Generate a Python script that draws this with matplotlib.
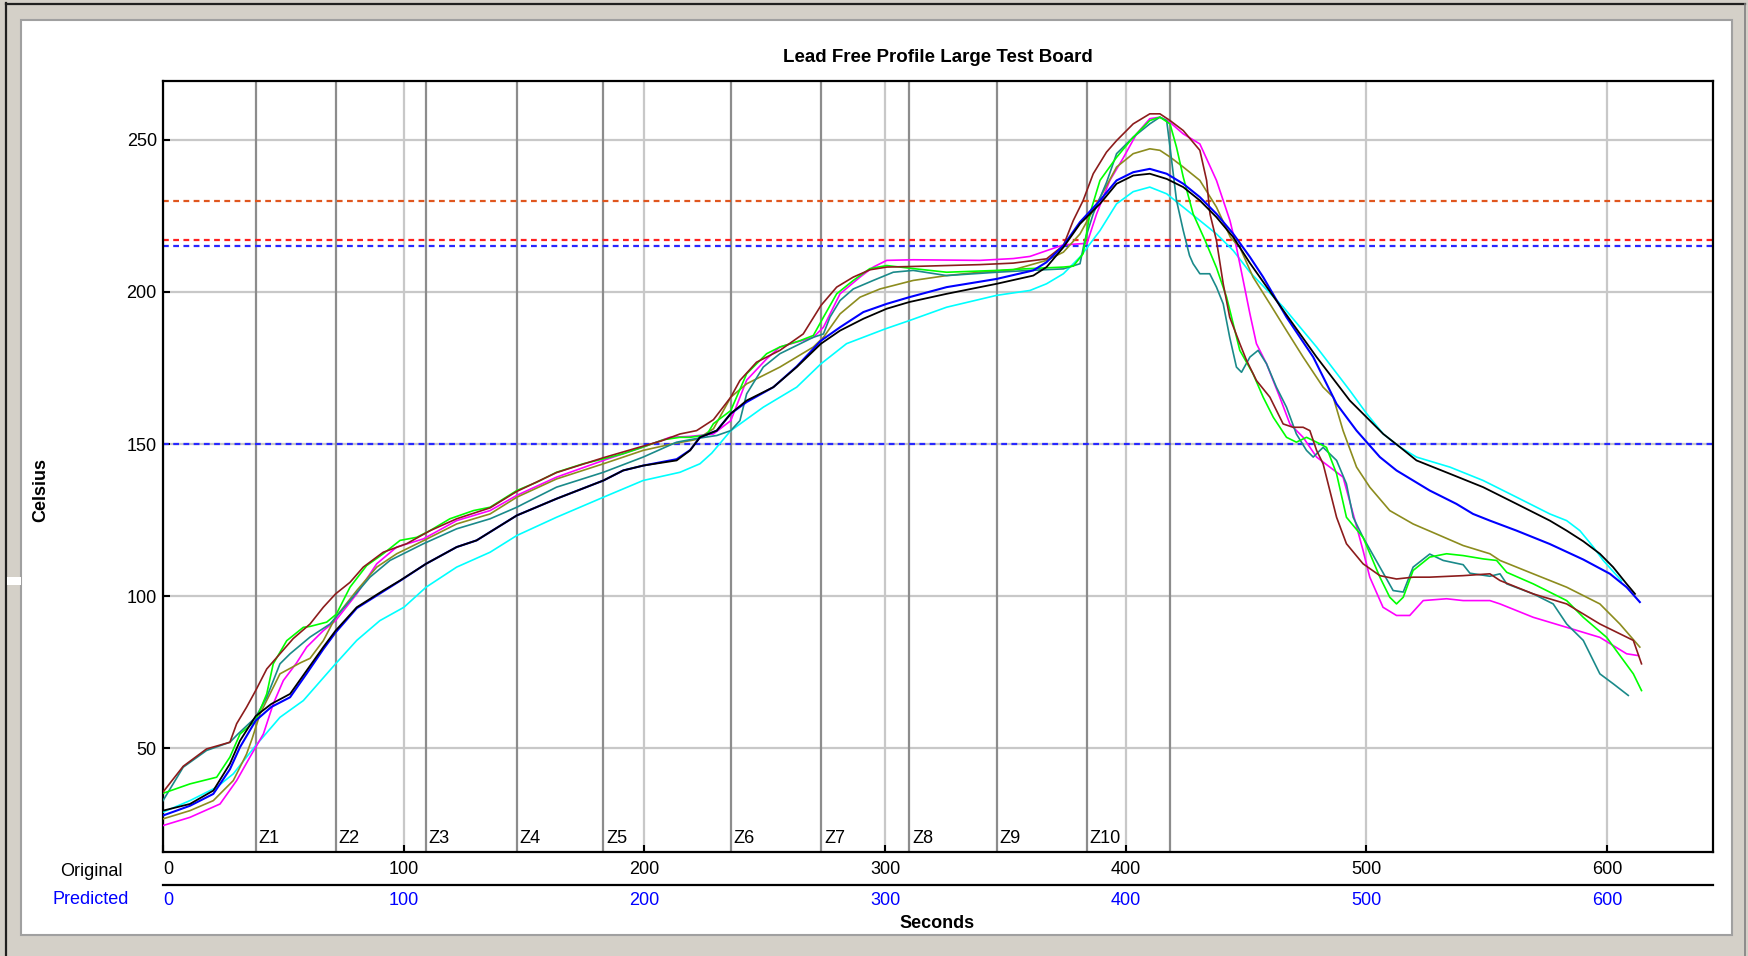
import numpy as np
import matplotlib
matplotlib.use('Agg')
import matplotlib.pyplot as plt
import matplotlib.transforms as mtransforms
from matplotlib.lines import Line2D
from matplotlib.patches import Rectangle

plt.rcParams['font.family'] = ['Liberation Sans', 'DejaVu Sans']

# ---- data (seconds, celsius) ----
brown = np.array([
    (0, 35.5), (8.4, 44), (18.1, 49.7), (27.8, 51.9), (30.6, 58), (34.7, 63.4), (38.5, 68.9),
    (43.1, 76), (48.6, 81), (54.1, 86), (61.1, 90.8), (66.6, 96.3), (71.7, 100.7), (77.7, 104.5),
    (83.2, 109.5), (91.5, 114.4), (101.2, 117.2), (111, 121.5), (122, 125.4), (135.9, 129),
    (147, 134.4), (163.5, 140.6), (183, 145.5), (199.5, 149.3), (207, 151), (214.8, 153.3),
    (221.7, 154.4), (228.7, 158), (235.9, 165.4), (239.7, 170.9), (246.6, 176.9), (256.3, 180.8),
    (266, 186.2), (273.4, 195.6), (279.9, 201.6), (286.8, 204.9), (293.7, 207.3), (300.7, 208.2),
    (311.7, 208.4), (339.4, 209), (353.3, 209.5), (367.1, 210.9), (374.1, 215.3), (378.2, 223.5),
    (382.3, 230.1), (386.5, 238.9), (392, 246), (396.2, 249.8), (403.1, 255.3), (410, 258.6),
    (414.2, 258.6), (418.4, 256.4), (423.9, 253.1), (430.8, 246.6), (433.6, 236.7), (435, 225.7),
    (437.7, 216.9), (440.5, 202.7), (443.2, 191.7), (447.4, 183), (450.2, 177.5), (454.3, 170.9),
    (459.9, 165.4), (465.4, 156.6), (469.5, 155.5), (473.7, 155.5), (476.5, 154.4), (479.3, 147.9),
    (482, 143.5), (484.8, 134.7), (487.6, 125.9), (491.7, 117.2), (498.6, 110.6), (505.6, 106.7),
    (512.5, 105.6), (519.4, 106.2), (526.3, 106.2), (540.2, 106.7), (551.3, 107.3), (555.5, 105.1),
    (562.4, 102.9), (569.3, 100.7), (583.2, 97.4), (597, 90.8), (610.9, 85.4), (614.3, 77.7)])

green = np.array([
    (0, 35.1), (11.2, 38.2), (22.3, 40.4), (27.8, 47), (32, 54.6), (38.5, 59), (43.1, 67.8),
    (45.8, 77.7), (51.4, 85.3), (58.3, 89.7), (61.1, 90), (68, 91.4), (72, 94), (77.7, 102.9),
    (84.6, 110), (91.5, 113.9), (98.5, 118.3), (105.4, 119.3), (110.9, 121.5), (119.2, 125.4),
    (129, 128.1), (135.9, 129.2), (147, 134.7), (155.2, 137.4), (163.5, 140.7), (174.6, 143.5),
    (183, 145.1), (191.2, 146.8), (199.5, 149), (207.9, 151.4), (214.8, 152.2), (219, 152.2),
    (225.9, 153), (228.7, 156.7), (235.9, 161), (242.5, 173.1), (250.8, 179.7), (256.3, 181.9),
    (264.7, 184), (270.2, 185.7), (274.4, 191.7), (279.9, 199.4), (286.8, 203.8), (293.7, 207.7),
    (300.7, 208.7), (311.7, 207.7), (325.6, 206.5), (346.4, 207.1), (360.2, 207.7), (374.1, 208.2),
    (378.2, 208.5), (382.3, 212.6), (385.1, 225.7), (389.3, 236.7), (396.2, 244.3), (403.1, 250.9),
    (410, 256.4), (414.2, 257.5), (418.4, 255.3), (421.1, 247.6), (423.9, 237.8), (428, 225.7),
    (433, 216.9), (437.7, 208), (441.9, 198.3), (447.4, 180.8), (452.9, 173.1), (457.1, 165.4),
    (461.3, 158.8), (466.8, 152.2), (470.9, 150.6), (475.1, 152.2), (479.3, 150.6), (483.4, 148.9),
    (487.6, 140.2), (491.7, 125.9), (498.6, 119.3), (505.6, 106.2), (509.7, 99.6), (512.5, 97.4),
    (515.3, 99.6), (519.4, 108.4), (526.3, 112.8), (533.3, 113.9), (540.2, 113.3), (548.6, 112.2),
    (554.1, 111.7), (558.3, 107.8), (569.3, 104), (583.2, 98.5), (590.1, 93), (599.8, 86.4),
    (610.9, 74.4), (614.3, 68.9)])

teal = np.array([
    (0, 32.7), (8.4, 43.7), (18.1, 49.2), (27.8, 51.9), (31, 54.5), (38.5, 60.1), (43.1, 66.7),
    (48.6, 77.7), (52.8, 81), (61.1, 86.5), (69.4, 90.8), (77.7, 98.5), (86, 106.2), (94.3, 111.7),
    (108.2, 117.2), (122, 122.1), (135.9, 125.4), (147, 129.2), (149.7, 130.3), (163.5, 135.8),
    (183, 140.7), (199.5, 145.7), (213.4, 150.6), (221.7, 151.8), (230.1, 152.8), (235.9, 154.4),
    (239.7, 157.7), (242.5, 166.5), (249.4, 175.3), (256.3, 179.7), (270.2, 185.1), (274.4, 186.2),
    (277.1, 191.7), (281.3, 197.2), (286.8, 201), (295.1, 203.8), (303.4, 206.5), (311.7, 207.1),
    (325.6, 205.4), (346.4, 206.5), (360.2, 207.1), (374.1, 207.6), (381, 209.3), (383, 217),
    (386.5, 225.7), (392, 236), (396.2, 245.5), (403.1, 250.9), (410, 255.3), (414.2, 257.5),
    (417, 256.4), (418.4, 247.6), (421.1, 230.1), (423.9, 220.2), (426.5, 212), (428, 209.3),
    (430.8, 206), (434.9, 206), (437.7, 201.6), (440.5, 196.1), (443.2, 185.1), (446, 175.3),
    (448.1, 173.6), (451.6, 178.6), (455, 180.8), (458.5, 176.4), (462.6, 168.7), (466.8, 162.1),
    (470.9, 153.3), (475.1, 147.9), (477.9, 145.7), (482, 148.9), (487.6, 144.6), (491.7, 136.9),
    (494.5, 125.9), (498.6, 119.3), (505.6, 109.5), (511.1, 101.8), (515.3, 101.3), (519.4, 109.5),
    (526.3, 113.8), (531.9, 111.7), (540.2, 110.3), (543, 107.5), (551.3, 106.5), (555.5, 107.3),
    (558.3, 104), (569.3, 100.7), (577.6, 97.4), (583.2, 90.8), (590.1, 85.4), (597, 74.4),
    (602.6, 71.1), (608.8, 67.3)])

magenta = np.array([
    (0, 24.5), (11.2, 27.2), (23.7, 31.6), (30.6, 39.3), (36.1, 47), (41.7, 54.6), (45.8, 64.5),
    (50, 72.2), (55.5, 78), (59.7, 83.2), (66.6, 88.6), (71.7, 91.9), (80.5, 100.7), (88.8, 110.6),
    (97.1, 116.1), (108.2, 118.8), (122, 124.8), (135.9, 128.1), (147, 133.1), (163.5, 139.1),
    (183, 144.6), (199.5, 149), (210.6, 152.2), (219, 152.5), (228.7, 153.3), (235.9, 157.7),
    (242.5, 171), (250.8, 178), (256.3, 181.9), (270.2, 185.1), (274.4, 188.4), (281.3, 199.4),
    (289.6, 204.9), (295.1, 208.2), (300.7, 210.4), (311.7, 210.6), (339.4, 210.4), (353.3, 211),
    (360.2, 211.7), (374.1, 215.5), (383.9, 216), (387.9, 225.7), (393.4, 236.7), (398.9, 244),
    (404.5, 252), (410, 257), (414.2, 257.5), (418.4, 255.8), (423.9, 252), (430.8, 248.7),
    (437.7, 236.7), (443.3, 223.5), (446, 214.7), (448.8, 203.8), (451.6, 192.8), (454.3, 183),
    (458.5, 176.4), (464, 165.4), (468.2, 156.6), (473.7, 152.2), (479.3, 145.7), (484.8, 142.4),
    (490.3, 139.1), (494.5, 127), (498.6, 115), (501.4, 106.2), (506.9, 96.3), (512.5, 93.6),
    (518, 93.6), (523.6, 98.5), (533.3, 99.1), (540.2, 98.5), (551.3, 98.5), (555.5, 97.4),
    (569.3, 93), (583.2, 89.7), (597, 86.4), (608.1, 81), (613, 80.4)])

olive = np.array([
    (0, 26.7), (11.2, 29.4), (20.9, 32.7), (29.2, 39.3), (34.7, 48), (37, 53), (40.3, 61.2),
    (48.6, 74.4), (57, 78), (61.1, 79.5), (66.6, 85.3), (71.7, 93), (80.5, 101.8), (88.8, 109.5),
    (97.1, 113.9), (108.2, 118.2), (122, 123.7), (135.9, 127), (147, 132.5), (163.5, 138.5),
    (183, 143.5), (199.5, 147.9), (212, 150.1), (221.7, 151.5), (228.7, 155), (235.9, 165.4),
    (242.5, 169.8), (256.3, 175.3), (270.2, 181.9), (274.4, 185.1), (281.3, 192.8), (289.6, 198.3),
    (297.9, 201), (311.7, 203.8), (325.6, 205.4), (339.4, 206.5), (353.3, 207.3), (367.1, 210.4),
    (374.1, 213.1), (381, 219.1), (389.3, 231), (396.2, 241.1), (403.1, 245.5), (410, 247.1),
    (414.2, 246.6), (418.4, 244.4), (423.9, 241.1), (430.8, 236.7), (437.7, 227.9), (443.5, 218),
    (447.4, 214.7), (452.9, 204.9), (459.9, 196.1), (466.8, 187.3), (473.7, 178.6), (482, 168.7),
    (486.2, 165.4), (490.3, 154.4), (495.9, 142.4), (501.4, 135.8), (509.7, 128.1), (519.4, 123.7),
    (529.1, 120.4), (540.2, 116.6), (551.3, 113.9), (555.5, 111.7), (569.3, 107.3), (583.2, 102.9),
    (597, 97.4), (605.3, 90.8), (613.6, 83.2)])

black = np.array([
    (0, 29.4), (11.2, 31.6), (20.9, 36), (27.8, 44.8), (32, 52.4), (38.5, 60.5), (45, 64.5),
    (52.8, 67.8), (59.7, 75.5), (66.6, 83.2), (71.7, 88.6), (80.5, 96.3), (91.5, 101.8),
    (98.5, 105.1), (109.3, 110.6), (122, 116.1), (130.3, 118.3), (147, 126.5), (163.5, 132),
    (183, 138), (191.2, 141.3), (199.5, 142.9), (213.4, 144.6), (219, 147.9), (223.1, 152.2),
    (230.1, 154.4), (235.9, 160), (242.5, 164.3), (253.6, 168.7), (263.3, 175.3), (273.4, 183),
    (281.3, 187.3), (291, 191.2), (300.7, 194.5), (310.1, 196.7), (325.6, 199.4), (346.4, 202.7),
    (361.6, 205.4), (367.1, 208.2), (374.1, 214.7), (381, 222.4), (389.3, 229), (396.2, 235.6),
    (403.1, 238.3), (410, 238.9), (417, 237.2), (423.9, 234.5), (430.8, 230.1), (437.7, 224.6),
    (444.7, 218), (451.6, 209.5), (465.5, 193.9), (479.3, 178.6), (493.1, 164.3), (507, 153.3),
    (513.9, 149), (520.8, 144.6), (534.7, 140.2), (548.5, 135.8), (562.4, 130.3), (576.2, 124.8),
    (583.2, 121.5), (590.1, 118), (597, 113.9), (602.5, 109.5), (608.1, 104), (611.6, 100.7)])

blue = np.array([
    (0, 27.8), (11.2, 31), (20.9, 34.9), (27.8, 43), (32, 50.3), (38.5, 59), (45, 63.5),
    (52.8, 66.7), (59.7, 74.5), (66.6, 82.5), (71.7, 88), (80.5, 96), (91.5, 101.5), (98.5, 105),
    (109.3, 110.6), (122, 116.1), (130.3, 118.3), (147, 126.5), (163.5, 132), (183, 138),
    (191.2, 141.3), (199.5, 142.9), (213.4, 145), (219, 148), (223.1, 152.2), (230.1, 154.4),
    (235.9, 160), (242.5, 163.8), (253.6, 168.7), (263.3, 175.5), (273.4, 184), (281.3, 188.4),
    (291, 193.4), (300.7, 196.1), (310.1, 198.3), (325.6, 201.6), (346.4, 204.3), (361.6, 207.1),
    (367.1, 209.8), (374.1, 215.3), (381, 223), (389.3, 230.1), (396.2, 236.7), (403.1, 239.4),
    (410, 240.5), (417, 238.9), (423.9, 235.6), (430.8, 231.2), (437.7, 225.7), (444.7, 219.1),
    (451.6, 211.5), (457.1, 204.9), (466.8, 191.7), (477.9, 178.6), (487.6, 163.2), (495.9, 154.4),
    (505.6, 145.7), (512.5, 141.3), (519.4, 138), (526.3, 134.7), (537.4, 130.3), (544.3, 127),
    (551.3, 124.8), (562.4, 121.5), (576.2, 117.1), (590.1, 112), (601.2, 107.3), (608.1, 102.9),
    (613.6, 98)])

cyan = np.array([
    (0, 28.9), (11.2, 32.7), (22.3, 37.1), (29.2, 41.5), (38.5, 50.8), (48.6, 60.1), (58.3, 65.6),
    (71.7, 77.7), (80.5, 85.4), (90.1, 91.9), (100.1, 96.3), (109.3, 102.9), (122, 109.5),
    (135.9, 114.4), (147, 119.9), (163.5, 125.9), (183, 132.5), (199.5, 138), (214.8, 140.7),
    (223.1, 143.5), (228, 147), (235.9, 154.4), (249.4, 162.1), (263.3, 168.7), (273.4, 176.4),
    (284, 183), (300.2, 187.9), (310.1, 190.6), (325.6, 195), (346.4, 198.9), (360.2, 200.5),
    (367.1, 202.7), (374.1, 206), (381, 211.5), (389.3, 220.2), (396.2, 229), (403.1, 233),
    (410, 234.5), (417, 232.3), (423.9, 227.9), (430.8, 223.5), (437.7, 219.1), (444.7, 213.6),
    (451.6, 206.5), (465.5, 195), (479.3, 181.9), (493.1, 167.6), (500.1, 160), (507, 153.3),
    (513.9, 149), (520.8, 145.7), (534.7, 142.4), (548.5, 138), (562.4, 132.5), (576.2, 127),
    (583.2, 124.8), (588.7, 121.5), (594.3, 116.1), (598.4, 111.7), (606, 105)])

# zone boundaries (seconds) and limit lines (celsius)
zone_edges = [38.5, 71.7, 109.1, 146.9, 182.9, 235.9, 273.4, 310.1, 346.4, 383.9, 418.5]
zone_names = ['Z1', 'Z2', 'Z3', 'Z4', 'Z5', 'Z6', 'Z7', 'Z8', 'Z9', 'Z10']
limit_levels = [230, 217, 215, 150]
x_ticks = [0, 100, 200, 300, 400, 500, 600]
y_ticks = [50, 100, 150, 200, 250]

# ---- figure / window frame ----
W, H = 1748, 956
fig = plt.figure(figsize=(W / 100, H / 100), dpi=100, facecolor='#D4D0C8')


def fx(px):
    return px / W


def fy(py):
    return 1 - py / H


fig.add_artist(Rectangle((fx(21), fy(935)), fx(1732) - fx(21), fy(20) - fy(935),
                         transform=fig.transFigure, facecolor='white',
                         edgecolor='#A0A0A0', lw=1.5, zorder=-10))
fig.add_artist(Line2D([fx(6), fx(6)], [fy(3), 0], transform=fig.transFigure,
                      color='#202020', lw=1.6, zorder=-9))
fig.add_artist(Line2D([fx(6), fx(1745)], [fy(4), fy(4)], transform=fig.transFigure,
                      color='#202020', lw=1.6, zorder=-9))
fig.add_artist(Line2D([fx(1745), fx(1745)], [fy(4), 0], transform=fig.transFigure,
                      color='#808080', lw=1.2, zorder=-9))
fig.add_artist(Rectangle((fx(7), fy(585)), fx(21) - fx(7), fy(577) - fy(585),
                         transform=fig.transFigure, facecolor='white', edgecolor='none', zorder=-8))

# ---- plot area ----
ax = fig.add_axes([fx(163), fy(852), fx(1713) - fx(163), fy(81) - fy(852)])
ax.set_xlim(0, 644)
ax.set_ylim(15.8, 269.4)

ax.set_xticks(x_ticks)
ax.set_yticks(y_ticks)
ax.grid(True, color='#C8C8C8', lw=1.6)
ax.set_axisbelow(True)
ax.tick_params(direction='in', length=5, width=1.5, labelsize=13, colors='black')
ax.tick_params(axis='x', pad=6.5)
ax.tick_params(axis='y', pad=4.5)
ax.get_xticklabels()[0].set_ha('left')
for s in ax.spines.values():
    s.set_linewidth(1.6)
    s.set_color('black')

for z in zone_edges:
    ax.axvline(z, color='#8C8C8C', lw=1.6, zorder=1.5)

blend = mtransforms.blended_transform_factory(ax.transData, ax.transAxes)
for z, name in zip(zone_edges, zone_names):
    ax.text(z + 1.2, 0.006, name, transform=blend, ha='left', va='bottom', fontsize=13)

limit_colors = ['#E0561E', '#FF2020', '#2828FF', '#2828FF']
for lev, c in zip(limit_levels, limit_colors):
    ax.axhline(lev, color=c, lw=1.6, ls=(0, (2.6, 2.0)), zorder=1.8)

series = [(cyan, '#00FFFF', 1.2), (magenta, '#FF00FF', 1.2), (olive, '#8C8C1E', 1.2),
          (teal, '#1A8A8A', 1.2), (green, '#00FF00', 1.2), (brown, '#8C1C1C', 1.2),
          (blue, '#0000FF', 1.5), (black, '#000000', 1.3)]
for data, c, lw in series:
    ax.plot(data[:, 0], data[:, 1], color=c, lw=lw, zorder=3)

# second (predicted) time scale under the axis
ax.plot([0, 644], [-0.0428, -0.0428], transform=blend, color='black', lw=1.6, clip_on=False)
for t in x_ticks:
    ax.text(t, -0.0625, str(t), transform=blend, ha='left' if t == 0 else 'center',
            va='center', fontsize=13, color='#0000FF')

fig.text(fx(123), fy(871), 'Original', ha='right', va='center', fontsize=13)
fig.text(fx(129), fy(899), 'Predicted', ha='right', va='center', fontsize=13, color='#0000FF')

fig.text(fx(938), fy(58), 'Lead Free Profile Large Test Board', ha='center', va='center',
         fontsize=13.5, fontweight='bold')
fig.text(fx(41), fy(490), 'Celsius', rotation=90, ha='center', va='center',
         fontsize=13, fontweight='bold')
fig.text(fx(937), fy(923), 'Seconds', ha='center', va='center', fontsize=13, fontweight='bold')

fig.savefig('out.png', dpi=100, facecolor=fig.get_facecolor())
